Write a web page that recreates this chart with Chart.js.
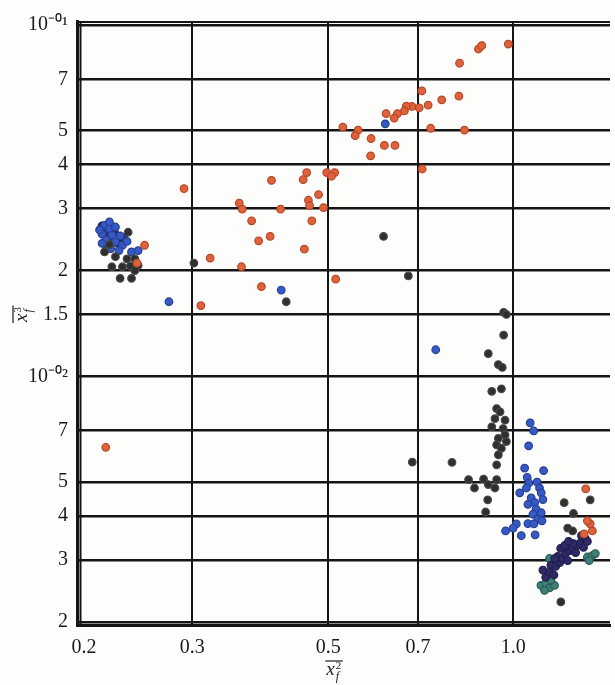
<!DOCTYPE html>
<html>
<head>
<meta charset="utf-8">
<script src="https://cdn.jsdelivr.net/npm/chart.js@4.4.1/dist/chart.umd.min.js"></script>
<style>
  html, body { margin: 0; padding: 0; background: #fdfdfc; }
  #c { display: block; }
</style>
</head>
<body>
<canvas id="c" width="615" height="685"></canvas>
<script>
// ---- axis ticks ----
const xTicks = [0.2, 0.3, 0.5, 0.7, 1.0];
const xTickLabels = ['0.2', '0.3', '0.5', '0.7', '1.0'];
const yTicks = [0.002, 0.003, 0.004, 0.005, 0.007, 0.01, 0.015, 0.02, 0.03, 0.04, 0.05, 0.07, 0.1];
const yTickLabels = ['2', '3', '4', '5', '7', '10\u207B\u2070\u00B2', '1.5', '2', '3', '4', '5', '7', '10\u207B\u2070\u00B9'];
const xTitleBase = 'x', xTitleSup = '2', xTitleSub = 'f';
const yTitleBase = 'x', yTitleSup = '3', yTitleSub = 'f';

// ---- series: orange ----
const orangeX = [0.982, 0.878, 0.889, 0.818, 0.710, 0.765, 0.816, 0.727, 0.703, 0.684, 0.670, 0.665, 0.648, 0.640, 0.621,
  0.734, 0.833, 0.528, 0.559, 0.553, 0.587, 0.617, 0.642, 0.586, 0.711, 0.497, 0.512, 0.506, 0.461, 0.455, 0.404,
  0.291, 0.482, 0.464, 0.466, 0.358, 0.362, 0.418, 0.491, 0.375, 0.470, 0.402, 0.385, 0.457, 0.321, 0.361, 0.389,
  0.514, 0.310, 0.251, 0.244, 0.217, 1.313, 1.335, 1.305, 1.346, 1.321];
const orangeY = [0.0882, 0.0854, 0.0873, 0.0778, 0.0649, 0.0612, 0.0627, 0.0591, 0.0581, 0.0586, 0.0587, 0.0569, 0.0559, 0.0543, 0.0559,
  0.0508, 0.0502, 0.0512, 0.0502, 0.0484, 0.0475, 0.0454, 0.0454, 0.0424, 0.0389, 0.0380, 0.0380, 0.0371, 0.0380, 0.0363, 0.0361,
  0.0342, 0.0329, 0.0317, 0.0306, 0.0311, 0.0299, 0.0299, 0.0302, 0.0277, 0.0277, 0.0250, 0.0243, 0.0230, 0.0217, 0.0205, 0.0180,
  0.0189, 0.0159, 0.0236, 0.0210, 0.00628, 0.00478, 0.00380, 0.00356, 0.00363, 0.00388];

// ---- series: black ----
const blackX = [0.302, 0.615, 0.675, 0.427, 0.965, 0.975, 0.965, 0.911, 0.946, 0.960, 0.923, 0.957, 0.940, 0.952, 0.934,
  0.970, 0.923, 0.963, 0.970, 0.946, 0.975, 0.940, 0.957, 0.946, 0.940, 0.685, 0.795, 0.846, 0.865, 0.895, 0.911,
  0.940, 0.934, 0.909, 0.902, 1.211, 1.335, 1.254, 1.227, 1.196, 1.250,
  0.222, 0.231, 0.238, 0.245, 0.229, 0.239, 0.225, 0.235, 0.242, 0.242, 0.216, 0.236, 0.220];
const blackY = [0.0210, 0.0250, 0.0193, 0.0163, 0.0152, 0.0150, 0.0131, 0.0116, 0.0108, 0.0106, 0.00906, 0.00921, 0.00809, 0.00792, 0.00758,
  0.00750, 0.00718, 0.00710, 0.00681, 0.00666, 0.00652, 0.00638, 0.00624, 0.00598, 0.00560, 0.00570, 0.00569, 0.00508, 0.00481, 0.00510, 0.00492,
  0.00508, 0.00481, 0.00445, 0.00411, 0.00437, 0.00445, 0.00407, 0.00370, 0.00228, 0.00363,
  0.0205, 0.0205, 0.0206, 0.0207, 0.0190, 0.0190, 0.0219, 0.0216, 0.0216, 0.0200, 0.0226, 0.0257, 0.0237];

// ---- series: blue ----
const blueX = [0.216, 0.220, 0.214, 0.222, 0.217, 0.225, 0.214, 0.231, 0.221, 0.228, 0.239, 0.245, 0.220, 0.225, 0.212, 0.229, 0.235,
  0.275, 0.419, 0.619, 0.748,
  1.066, 1.080, 1.060, 1.044, 1.121, 1.054, 1.061, 1.094, 1.104, 1.025, 1.051, 1.070, 1.084, 1.057, 1.111, 1.118,
  1.090, 1.111, 1.077, 1.097, 1.114, 1.057, 1.081, 1.012, 1.000, 0.972, 1.031, 1.086];
const blueY = [0.0269, 0.0263, 0.0254, 0.0252, 0.0244, 0.0241, 0.0239, 0.0236, 0.0231, 0.0228, 0.0226, 0.0228, 0.0275, 0.0266, 0.0261, 0.0251, 0.0242,
  0.0163, 0.0176, 0.0523, 0.0119,
  0.00737, 0.00699, 0.00634, 0.00548, 0.00539, 0.00516, 0.00497, 0.00500, 0.00481, 0.00466, 0.00481, 0.00451, 0.00437, 0.00432, 0.00466, 0.00446,
  0.00419, 0.00409, 0.00405, 0.00392, 0.00388, 0.00381, 0.00380, 0.00380, 0.00370, 0.00363, 0.00352, 0.00354];

// ---- series: navy ----
const navyX = [1.130, 1.147, 1.165, 1.152, 1.173, 1.191, 1.182, 1.204, 1.217, 1.227, 1.236, 1.250, 1.264, 1.273, 1.254,
  1.287, 1.302, 1.311, 1.292, 1.321, 1.195, 1.213, 1.169, 1.118, 1.231,
  0.214, 0.217, 0.224, 0.221, 0.227, 0.232, 0.218];
const navyY = [0.00268, 0.00277, 0.00272, 0.00290, 0.00288, 0.00295, 0.00307, 0.00303, 0.00313, 0.00299, 0.00319, 0.00324, 0.00315, 0.00330, 0.00334,
  0.00336, 0.00326, 0.00345, 0.00352, 0.00339, 0.00324, 0.00330, 0.00303, 0.00281, 0.00339,
  0.0268, 0.0258, 0.0258, 0.0246, 0.0239, 0.0248, 0.0234];

// ---- series: teal ----
const tealX = [1.321, 1.346, 1.330, 1.361, 1.146, 1.110, 1.130, 1.146, 1.168, 1.125, 1.152];
const tealY = [0.00306, 0.00309, 0.00299, 0.00313, 0.00303, 0.00254, 0.00258, 0.00250, 0.00254, 0.00246, 0.00263];

function pts(xs, ys) { return xs.map((x, i) => ({ x: x, y: ys[i] })); }
function ds(label, xs, ys, fill, border) {
  return { label: label, data: pts(xs, ys), backgroundColor: fill, borderColor: border,
           borderWidth: 1.2, pointRadius: 3.8, pointHoverRadius: 3.8 };
}

const GRID = '#151515';
const FONT = "'Liberation Serif', 'Times New Roman', serif";

const titlePlugin = {
  id: 'titles',
  afterDraw(chart) {
    const ctx = chart.ctx, a = chart.chartArea;
    ctx.save();
    // top double border and inner left line
    ctx.strokeStyle = GRID;
    ctx.lineWidth = 2;
    ctx.beginPath(); ctx.moveTo(a.left, a.top + 1); ctx.lineTo(a.right, a.top + 1); ctx.stroke();
    ctx.beginPath(); ctx.moveTo(a.left + 3.5, a.top); ctx.lineTo(a.left + 3.5, a.bottom); ctx.stroke();

    function drawTitle(base, sup, sub) {
      ctx.fillStyle = '#1a1a1a';
      ctx.font = 'italic 19px ' + FONT;
      ctx.textBaseline = 'alphabetic';
      ctx.textAlign = 'left';
      const w = ctx.measureText(base).width;
      ctx.fillText(base, 0, 0);
      ctx.strokeStyle = '#1a1a1a';
      ctx.lineWidth = 1.2;
      ctx.beginPath(); ctx.moveTo(-1, -14); ctx.lineTo(w + 8, -14); ctx.stroke();
      ctx.font = '11px ' + FONT;
      ctx.fillText(sup, w + 1, -6);
      ctx.font = 'italic 12px ' + FONT;
      ctx.fillText(sub, w + 1, 5);
    }
    const xs = chart.scales.x;
    ctx.save();
    ctx.translate(xs.getPixelForValue(0.5) - 2, 675);
    drawTitle(xTitleBase, xTitleSup, xTitleSub);
    ctx.restore();
    ctx.save();
    ctx.translate(27, 322);
    ctx.rotate(-Math.PI / 2);
    drawTitle(yTitleBase, yTitleSup, yTitleSub);
    ctx.restore();
    ctx.restore();
  }
};

new Chart(document.getElementById('c'), {
  type: 'scatter',
  data: {
    datasets: [
      ds('orange', orangeX, orangeY, '#e0623a', '#b5472a'),
      ds('black', blackX, blackY, '#2f2f2f', '#4a4a4a'),
      ds('blue', blueX, blueY, '#3559c6', '#27408f'),
      ds('navy', navyX, navyY, '#2e2b68', '#1f1d4b'),
      ds('teal', tealX, tealY, '#3f7f78', '#2b5a55')
    ]
  },
  options: {
    responsive: false,
    animation: false,
    events: [],
    layout: { padding: { top: 15, left: 0, right: 0, bottom: 0 } },
    plugins: { legend: { display: false }, tooltip: { enabled: false } },
    scales: {
      x: {
        type: 'logarithmic',
        min: 0.1948,
        max: 1.438,
        afterBuildTicks(s) { s.ticks = xTicks.map(v => ({ value: v })); },
        afterFit(s) { s.height = 60; },
        ticks: {
          autoSkip: false, maxRotation: 0, padding: 11,
          color: '#1a1a1a', font: { family: FONT, size: 20 },
          callback: (v, i) => xTickLabels[i]
        },
        grid: {
          drawTicks: false,
          color: c => (c.tick && c.tick.value === 0.2) ? 'rgba(0,0,0,0)' : GRID,
          lineWidth: 2
        },
        border: { display: true, color: GRID, width: 3 }
      },
      y: {
        type: 'logarithmic',
        min: 0.00196,
        max: 0.1026,
        afterBuildTicks(s) { s.ticks = yTicks.map(v => ({ value: v })); },
        afterFit(s) { s.width = 77; },
        ticks: {
          autoSkip: false, padding: 9,
          color: '#1a1a1a', font: { family: FONT, size: 20 },
          callback: (v, i) => yTickLabels[i]
        },
        grid: { drawTicks: false, color: GRID, lineWidth: 2.6 },
        border: { display: true, color: GRID, width: 3 }
      }
    }
  },
  plugins: [titlePlugin]
});
</script>
</body>
</html>
